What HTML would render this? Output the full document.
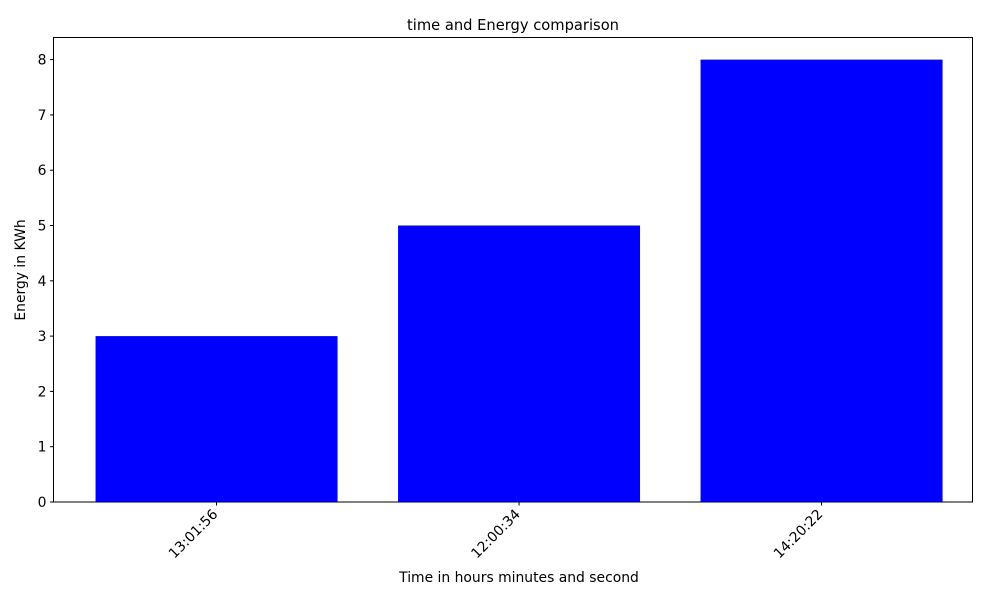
<!DOCTYPE html>
<html><head><meta charset="utf-8"><style>
body{margin:0;background:#fff;font-family:"DejaVu Sans","Liberation Sans",sans-serif}
</style></head><body>
<svg width="1000" height="600" xmlns="http://www.w3.org/2000/svg" font-family="DejaVu Sans, Liberation Sans, sans-serif">
<g id="bars"></g>
<g id="yt"></g>
<g id="xt"></g>
<rect x="53.5" y="37.5" width="919" height="464.5" fill="none" stroke="#000" stroke-width="1"/>
<text x="513" y="30" text-anchor="middle" font-size="14.7">time and Energy comparison</text>
<text x="519" y="582" text-anchor="middle" font-size="13.9">Time in hours minutes and second</text>
<text transform="translate(25,270) rotate(-90)" text-anchor="middle" font-size="13.9">Energy in KWh</text>
</svg>
<script>
const categories=["13:01:56","12:00:34","14:20:22"];
const values=[3,5,8];
const yTicks=[0,1,2,3,4,5,6,7,8];
const NS="http://www.w3.org/2000/svg";
const L=53.5,R=972.5,T=37.5,B=502;
const xmin=-0.539,xmax=2.499,ymax=8.4;
const xs=v=>L+(v-xmin)/(xmax-xmin)*(R-L);
const ys=v=>B-v/ymax*(B-T);
function mk(t,a,p){const e=document.createElementNS(NS,t);for(const k in a)e.setAttribute(k,a[k]);p.appendChild(e);return e;}
const bars=document.getElementById('bars'),yt=document.getElementById('yt'),xt=document.getElementById('xt');
values.forEach((v,i)=>{
 const r=mk('rect',{x:xs(i-0.4),y:ys(v),width:xs(i+0.4)-xs(i-0.4),height:B-ys(v),fill:'#0000ff'},bars);
 
 
});
yTicks.forEach(t=>{
 const y=ys(t);
 const l=mk('line',{x1:L-3.5,x2:L,y1:y,y2:y,stroke:'#000'},yt);
 
 
 const tx=mk('text',{x:L-7,y:y+5,'text-anchor':'end','font-size':13.9},yt);
 tx.textContent=t;
 
 
});
categories.forEach((c,i)=>{
 const x=xs(i);
 const l=mk('line',{x1:x,x2:x,y1:B,y2:B+3.5,stroke:'#000'},xt);
 
 
 const tx=mk('text',{transform:`translate(${x+2},${B+13}) rotate(-45)`,'text-anchor':'end','font-size':13.9},xt);
 tx.textContent=c;
 
 
});
</script>
</body></html>
